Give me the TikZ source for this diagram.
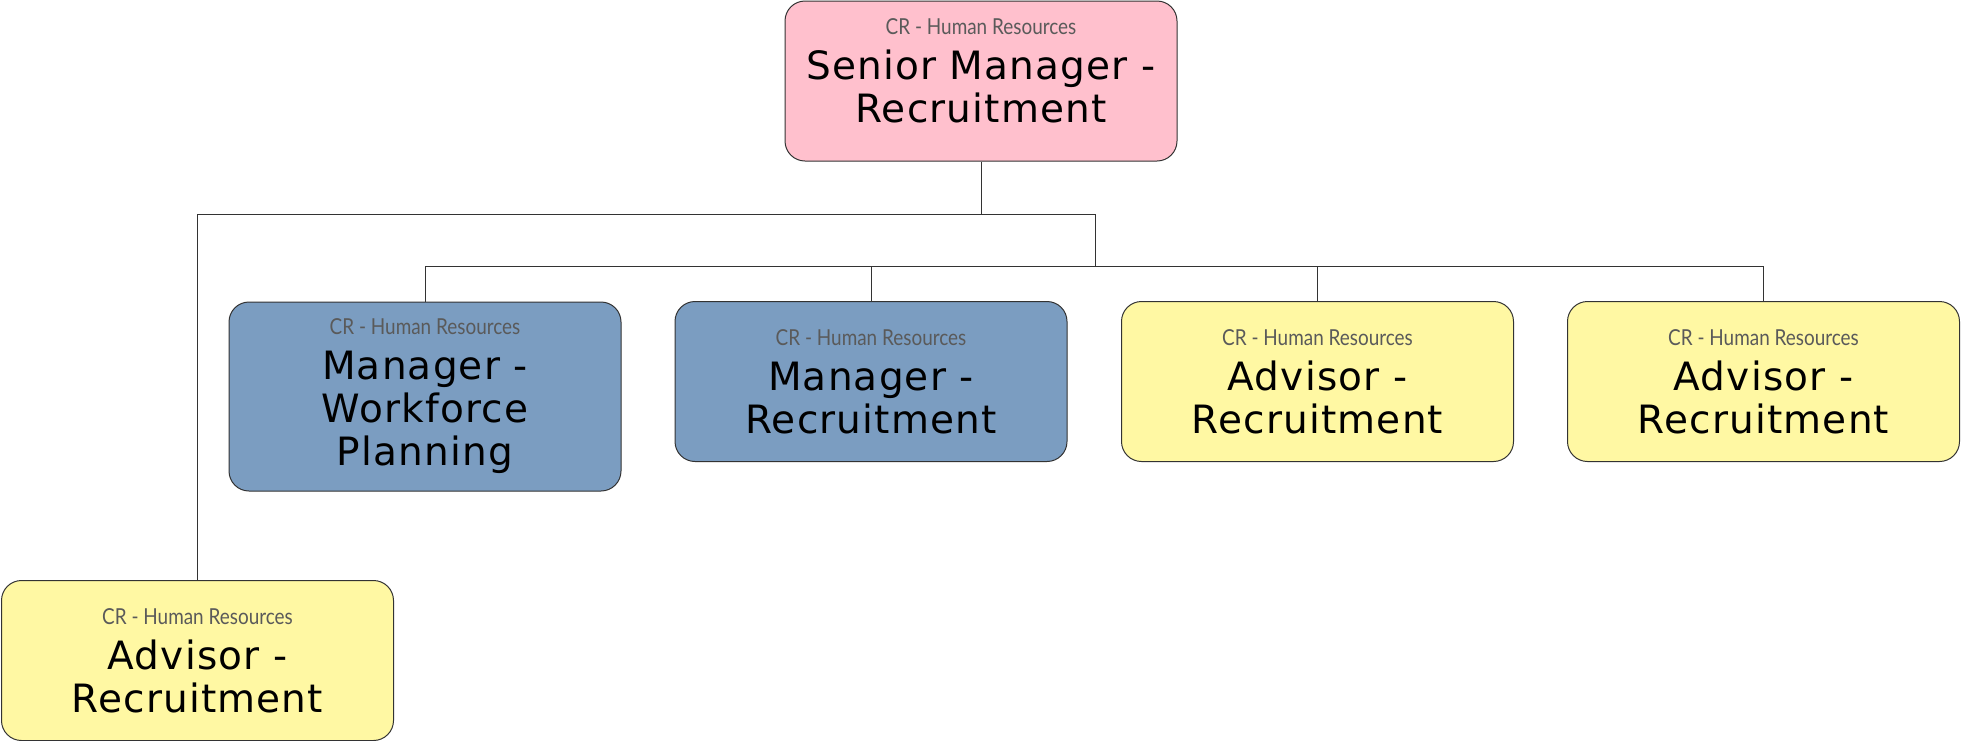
\documentclass[tikz,border=0pt]{standalone}
\usepackage{fontspec}
\setmainfont{DejaVu Sans}
\newfontfamily\crface[FakeStretch=0.86]{Lato}
\newfontfamily\titleface[LetterSpace=3]{DejaVu Sans}
\definecolor{unitgray}{HTML}{5A5A5A}
\definecolor{pinkbox}{HTML}{FFC0CD}
\definecolor{bluebox}{HTML}{7B9DC1}
\definecolor{yellowbox}{HTML}{FFF8A3}
\definecolor{linegray}{HTML}{333333}
\newcommand{\unitline}{\mbox{\crface\fontsize{11}{12}\selectfont\color{unitgray}CR - Human Resources}\\[1pt]}
\begin{document}
\begin{tikzpicture}[x=0.5pt,y=-0.5pt,
    post/.style={draw=linegray, line width=0.5pt, rounded corners=10pt, inner sep=0pt,
      minimum width=196pt, minimum height=80pt, text width=190pt, align=flush center,
      font=\titleface\fontsize{19.5}{21.5}\selectfont},
    tie/.style={draw=linegray, line width=0.5pt}]
\useasboundingbox (0,0) rectangle (1961,740);
% top of the chart
\node[post, fill=pinkbox] (senior) at (981,81) {\unitline Senior Manager -\\Recruitment\par\kern10pt};
% second row
\node[post, fill=bluebox, minimum height=94.5pt] (wfp) at (425,396.5) {\unitline Manager -\\Workforce\\Planning};
\node[post, fill=bluebox] (mgr) at (871,381.5) {\unitline Manager -\\Recruitment};
\node[post, fill=yellowbox] (adv1) at (1317.5,381.5) {\unitline Advisor -\\Recruitment};
\node[post, fill=yellowbox] (adv2) at (1763.5,381.5) {\unitline Advisor -\\Recruitment};
% lower left
\node[post, fill=yellowbox] (adv0) at (197.5,660.5) {\unitline Advisor -\\Recruitment};
% connectors
\coordinate (bus1) at (1095,214);
\coordinate (bus2) at (1095,266);
\draw[tie] (senior.south) |- (bus1) -- (bus2);
\draw[tie] (senior.south |- bus1) -| (adv0.north);
\foreach \n in {wfp,mgr,adv1,adv2}
  \draw[tie] (bus2) -| (\n.north);
\end{tikzpicture}
\end{document}
